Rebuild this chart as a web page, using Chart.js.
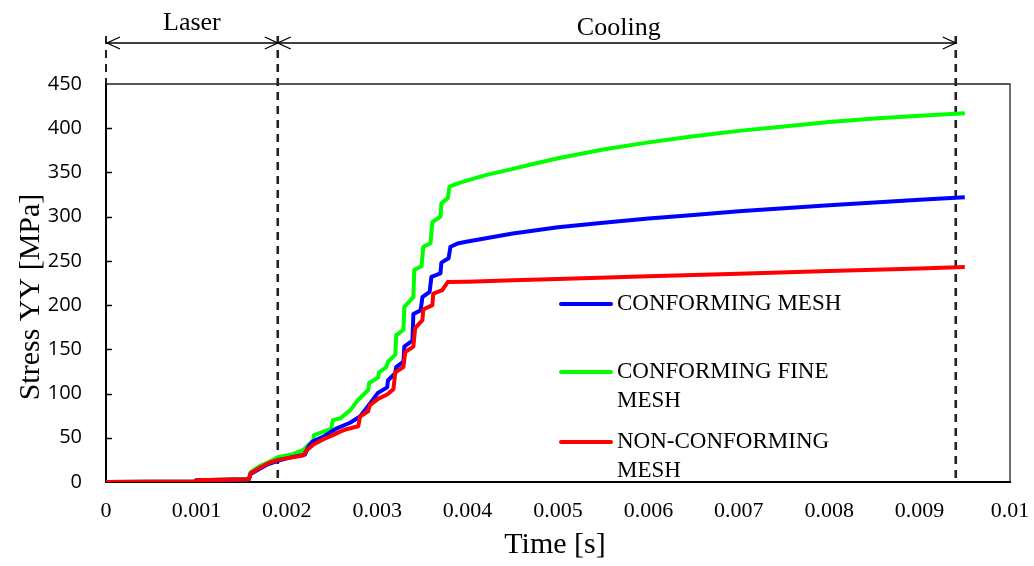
<!DOCTYPE html>
<html>
<head>
<meta charset="utf-8">
<script src="https://cdn.jsdelivr.net/npm/chart.js@4"></script>
<style>
  html, body { margin: 0; padding: 0; background: #fff; }
  #wrap { width: 1034px; height: 566px; position: relative; }
</style>
</head>
<body>
<div id="wrap"><canvas id="stressChart"></canvas></div>
<script>
// --- data: time [s] and stress YY [MPa] ---
const redT = [0, 0.00098, 0.0010, 0.00158, 0.00160, 0.00170, 0.00179, 0.00190, 0.00201, 0.00218, 0.00222, 0.00229,
  0.00240, 0.00251, 0.00259, 0.00267, 0.00279, 0.00281, 0.00290, 0.00292, 0.00301, 0.00311, 0.00318, 0.00320,
  0.00329, 0.00331, 0.00340, 0.00342, 0.00350, 0.00351, 0.00361, 0.00362, 0.00372, 0.00378,
  0.0040, 0.0045, 0.0050, 0.0060, 0.0070, 0.0080, 0.0090, 0.0095];
const redV = [0, 0.5, 2, 3, 10, 16, 21, 25, 27, 30, 36, 42,
  48, 53, 57, 60, 63, 74, 80, 87, 94, 99, 105, 124,
  130, 147, 153, 174, 183, 195, 200, 213, 217, 226,
  226.5, 228, 229.5, 232.5, 235.5, 238.5, 241.5, 243];

const blueT = [0, 0.00098, 0.0010, 0.00158, 0.00160, 0.00170, 0.00179, 0.00190, 0.00201, 0.00220, 0.00224, 0.00229,
  0.00240, 0.00254, 0.00270, 0.00281, 0.00290, 0.00301, 0.00311, 0.00312, 0.00320, 0.00321, 0.00329, 0.00330,
  0.00339, 0.00340, 0.00348, 0.00350, 0.00358, 0.00360, 0.00370, 0.00371, 0.00379, 0.00381, 0.00390,
  0.0040, 0.0045, 0.0050, 0.0055, 0.0060, 0.0065, 0.0070, 0.0075, 0.0080, 0.0085, 0.0090, 0.0095];
const blueV = [0, 0.5, 2, 3, 9, 15, 20, 24, 27, 31, 40, 46,
  51, 60, 67, 74, 86, 101, 107, 115, 123, 130, 136, 153,
  160, 190, 194, 209, 215, 232, 236, 248, 253, 266, 270,
  272, 281, 288, 293, 298, 302, 306, 309.5, 313, 316, 319, 322];

const greenT = [0, 0.00098, 0.0010, 0.00158, 0.00160, 0.00170, 0.00179, 0.00190, 0.00205, 0.00218, 0.00222, 0.00229,
  0.00230, 0.00249, 0.00251, 0.00259, 0.00270, 0.00279, 0.00290, 0.00291, 0.00301, 0.00302, 0.00310, 0.00312,
  0.00320, 0.00321, 0.00329, 0.00330, 0.00340, 0.00341, 0.00349, 0.00351, 0.00359, 0.00361, 0.00370, 0.00371,
  0.00378, 0.00380, 0.00390, 0.0040, 0.0042, 0.0045, 0.0047, 0.0050, 0.0055, 0.0060, 0.0065, 0.0070, 0.0075,
  0.0080, 0.0085, 0.0090, 0.0095];
const greenV = [0, 0.5, 2, 3, 11, 18, 22, 28, 31, 36, 40, 47,
  53, 60, 70, 72, 81, 93, 104, 112, 118, 124, 130, 136,
  144, 166, 172, 198, 209, 240, 244, 266, 270, 294, 300, 315,
  321, 334, 338, 341, 347, 354, 359, 366, 376, 384, 391, 397, 402,
  407, 411, 414, 417];

const xTicks = [0, 0.001, 0.002, 0.003, 0.004, 0.005, 0.006, 0.007, 0.008, 0.009, 0.01];
const laserEnd = 0.0019;
const coolingEnd = 0.0094;

const serif = '"Liberation Serif", "Times New Roman", serif';
const sans = '"Open Sans", "Noto Sans", sans-serif';

function toPoints(ts, vs) {
  return ts.map((t, i) => ({ x: t, y: vs[i] }));
}

// extras drawn around the plot: phase arrows, dashed markers, legend, titles
const decorations = {
  id: "decorations",
  beforeDatasetsDraw(chart) {
    const { ctx, chartArea: a, scales: { x, y } } = chart;
    ctx.save();
    // inward ticks on the y axis
    ctx.strokeStyle = "#000";
    ctx.lineWidth = 1.5;
    for (let v = 50; v < 450; v += 50) {
      const py = Math.round(y.getPixelForValue(v)) + 0.5;
      ctx.beginPath();
      ctx.moveTo(a.left, py);
      ctx.lineTo(a.left + 6, py);
      ctx.stroke();
    }
    // top and right frame
    ctx.strokeStyle = "#222";
    ctx.lineWidth = 1.3;
    ctx.beginPath();
    ctx.moveTo(a.left, a.top);
    ctx.lineTo(a.right, a.top);
    ctx.lineTo(a.right, a.bottom);
    ctx.stroke();
    // dashed phase markers
    ctx.setLineDash([8, 6]);
    ctx.lineWidth = 2;
    const x0 = x.getPixelForValue(0);
    ctx.beginPath();
    ctx.moveTo(x0, 36);
    ctx.lineTo(x0, a.top);
    ctx.stroke();
    ctx.lineWidth = 2.6;
    [laserEnd, coolingEnd].forEach((t) => {
      const px = x.getPixelForValue(t);
      ctx.beginPath();
      ctx.moveTo(px, 36);
      ctx.lineTo(px, a.bottom);
      ctx.stroke();
    });
    ctx.restore();
  },
  afterDraw(chart) {
    const { ctx, chartArea: a, scales: { x, y } } = chart;
    ctx.save();
    const ay = 43;
    const xa = x.getPixelForValue(0);
    const xb = x.getPixelForValue(laserEnd);
    const xc = x.getPixelForValue(coolingEnd);
    ctx.strokeStyle = "#000";
    ctx.lineWidth = 1.3;
    ctx.beginPath();
    ctx.moveTo(xa, ay);
    ctx.lineTo(xc, ay);
    ctx.stroke();
    function head(px, dir) {
      ctx.beginPath();
      ctx.moveTo(px - dir * 13, ay - 6);
      ctx.lineTo(px, ay);
      ctx.lineTo(px - dir * 13, ay + 6);
      ctx.stroke();
    }
    head(xa + 1, -1);
    head(xb, 1);
    head(xb, -1);
    head(xc, 1);

    ctx.fillStyle = "#000";
    ctx.textAlign = "center";
    ctx.textBaseline = "middle";
    ctx.font = "26px " + serif;
    ctx.fillText("Laser", (xa + xb) / 2, 23);
    ctx.fillText("Cooling", (xb + xc) / 2 + 2, 28);

    // axis titles
    ctx.font = "30px " + serif;
    ctx.fillText("Time [s]", (a.left + a.right) / 2 - 3, 545);
    ctx.save();
    ctx.translate(31, (a.top + a.bottom) / 2 + 14);
    ctx.rotate(-Math.PI / 2);
    ctx.fillText("Stress YY [MPa]", 0, 0);
    ctx.restore();

    // legend
    const legend = [
      { ds: 1, lines: ["CONFORMING MESH"], y: 304 },
      { ds: 2, lines: ["CONFORMING FINE", "MESH"], y: 372 },
      { ds: 0, lines: ["NON-CONFORMING", "MESH"], y: 442 },
    ];
    ctx.font = "23px " + serif;
    ctx.textAlign = "left";
    legend.forEach((item) => {
      const ds = chart.data.datasets[item.ds];
      ctx.strokeStyle = ds.borderColor;
      ctx.lineWidth = 4;
      ctx.lineCap = "round";
      ctx.beginPath();
      ctx.moveTo(561, item.y);
      ctx.lineTo(611, item.y);
      ctx.stroke();
      item.lines.forEach((txt, k) => ctx.fillText(txt, 617, item.y + k * 29));
    });
    ctx.restore();
  },
};

function initChart() {
  const ctx = document.getElementById("stressChart").getContext("2d");
  new Chart(ctx, {
    type: "line",
    data: {
      datasets: [
        { label: "NON-CONFORMING MESH", data: toPoints(redT, redV), borderColor: "#FF0000", order: 0 },
        { label: "CONFORMING MESH", data: toPoints(blueT, blueV), borderColor: "#0000FF", order: 1 },
        { label: "CONFORMING FINE MESH", data: toPoints(greenT, greenV), borderColor: "#00FF00", order: 2 },
      ],
    },
    options: {
      responsive: true,
      maintainAspectRatio: false,
      animation: false,
      datasets: {
        line: { borderWidth: 4, pointRadius: 0, tension: 0, fill: false, borderJoinStyle: "round" },
      },
      layout: { padding: { top: 84, right: 24, left: 0, bottom: 0 } },
      plugins: { legend: { display: false }, tooltip: { enabled: false } },
      scales: {
        x: {
          type: "linear",
          min: 0,
          max: 0.01,
          afterBuildTicks: (scale) => { scale.ticks = xTicks.map((v) => ({ value: v })); },
          afterFit: (scale) => {
            scale.height = 84;
            scale.paddingLeft = 0;
            scale.paddingRight = 0;
          },
          grid: { display: false, drawTicks: false },
          border: { color: "#000", width: 2 },
          ticks: {
            color: "#000",
            padding: 16,
            maxRotation: 0,
            font: { family: serif, size: 22 },
            callback: (v) => String(Number(v.toFixed(3))),
          },
        },
        y: {
          min: 0,
          max: 450,
          afterFit: (scale) => {
            scale.width = 106;
            scale.paddingTop = 0;
            scale.paddingBottom = 0;
          },
          grid: { display: false, drawTicks: false },
          border: { color: "#000", width: 2 },
          ticks: { stepSize: 50, color: "#000", padding: 24, font: { family: sans, size: 20 } },
        },
      },
    },
    plugins: [decorations],
  });
}

document.addEventListener("DOMContentLoaded", () => {
  initChart();
});
</script>
</body>
</html>
